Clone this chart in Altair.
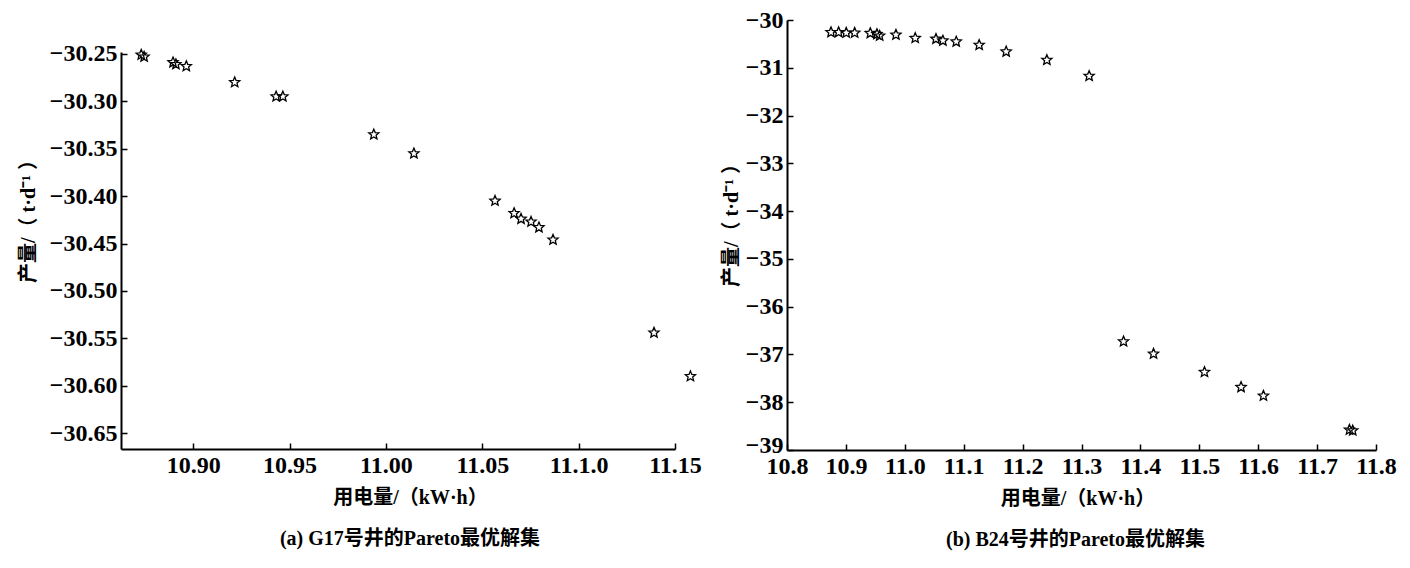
import altair as alt
import pandas as pd

# ---------------- data ----------------
g17_power = [10.8730, 10.8745, 10.8895, 10.8910, 10.8964, 10.9215, 10.9430, 10.9465,
             10.9937, 11.0145, 11.0566, 11.0665, 11.0701, 11.0753, 11.0794, 11.0867,
             11.1391, 11.1580]
g17_yield = [-30.251, -30.253, -30.259, -30.261, -30.263, -30.280, -30.295, -30.295,
             -30.335, -30.355, -30.405, -30.418, -30.424, -30.427, -30.433, -30.446,
             -30.544, -30.590]

b24_power = [10.8747, 10.8877, 10.9006, 10.9149, 10.9414, 10.9527, 10.9573, 10.9850,
             11.0177, 11.0529, 11.0647, 11.0873, 11.1263, 11.1721, 11.2412, 11.3130,
             11.3714, 11.4223, 11.5088, 11.5709, 11.6089, 11.7549, 11.7605]
b24_yield = [-30.257, -30.257, -30.270, -30.270, -30.276, -30.297, -30.330, -30.310,
             -30.380, -30.397, -30.433, -30.454, -30.523, -30.663, -30.837, -31.172,
             -36.730, -36.987, -37.370, -37.685, -37.866, -38.577, -38.592]

g17_xticks = [10.90, 10.95, 11.00, 11.05, 11.10, 11.15]
g17_xlabels = ["10.90", "10.95", "11.00", "11.05", "11.1.0", "11.15"]
g17_yticks = [-30.25, -30.30, -30.35, -30.40, -30.45, -30.50, -30.55, -30.60, -30.65]
g17_xdomain = [10.8625, 11.15]
g17_ydomain = [-30.6666, -30.248]

b24_xticks = [10.8, 10.9, 11.0, 11.1, 11.2, 11.3, 11.4, 11.5, 11.6, 11.7, 11.8]
b24_xlabels = ["10.8", "10.9", "11.0", "11.1", "11.2", "11.3", "11.4", "11.5", "11.6", "11.7", "11.8"]
b24_yticks = [-30, -31, -32, -33, -34, -35, -36, -37, -38, -39]
b24_xdomain = [10.8, 11.8]
b24_ydomain = [-39, -30]

x_title = "用电量/（kW·h）"
y_title = "产量/（ t·d⁻¹ ）"
caption_a = "(a) G17号井的Pareto最优解集"
caption_b = "(b) B24号井的Pareto最优解集"

FONT = "Liberation Serif, Noto Sans CJK SC"
STAR = ("M0,-1L0.265,-0.364L0.951,-0.309L0.428,0.139L0.588,0.809L0,0.45"
        "L-0.588,0.809L-0.428,0.139L-0.951,-0.309L-0.265,-0.364Z")


def label_expr(values, labels):
    parts = [f"abs(datum.value - ({v})) < 1e-6 ? '{lab}'" for v, lab in zip(values, labels)]
    return " : ".join(parts) + " : ''"


def panel(power, yld, xdom, ydom, xticks, xlabels, yticks, yfmt, w, h,
          caption, ytitle_pad, ytitle_y, title_dx, caption_dx, lowest):
    df = pd.DataFrame({"power": power, "yield": yld})
    xs = alt.Scale(domain=xdom, nice=False, zero=False)
    ys = alt.Scale(domain=ydom, nice=False, zero=False)
    stars = alt.Chart(df).mark_point(
        shape=STAR, size=115, filled=False, color="black", strokeWidth=1.3, opacity=1
    ).encode(
        x=alt.X("power:Q", scale=xs,
                axis=alt.Axis(values=xticks, labelExpr=label_expr(xticks, xlabels),
                              ticks=False, grid=False, title=x_title, domainWidth=2,
                              labelPadding=4, titlePadding=10, labelFlush=False,
                              labelOverlap=False, titleX=w / 2 + title_dx)),
        y=alt.Y("yield:Q", scale=ys,
                axis=alt.Axis(values=yticks, format=yfmt, ticks=False, grid=False,
                              title=y_title, domainWidth=2, labelPadding=4,
                              titlePadding=ytitle_pad, titleY=ytitle_y,
                              labelFlush=False, labelOverlap=False,
                              labelOffset=alt.condition(f"datum.value == {lowest}",
                                                        alt.value(-5), alt.value(0)))),
    )
    inner_ticks = alt.Chart(df).mark_point(opacity=0).encode(
        x=alt.X("power:Q", scale=xs,
                axis=alt.Axis(orient="top", offset=-h, values=xticks, labels=False,
                              domain=False, grid=False, tickSize=6, tickWidth=1.5,
                              tickColor="black", title=None)),
        y=alt.Y("yield:Q", scale=ys,
                axis=alt.Axis(orient="right", offset=-w, values=yticks, labels=False,
                              domain=False, grid=False, tickSize=6, tickWidth=1.5,
                              tickColor="black", title=None)),
    )
    return alt.layer(stars, inner_ticks).resolve_axis(
        x="independent", y="independent"
    ).properties(
        width=w, height=h,
        title=alt.Title(caption, orient="bottom", fontSize=20, font=FONT,
                        offset=22, dx=caption_dx),
    )


left_panel = panel(g17_power, g17_yield, g17_xdomain, g17_ydomain, g17_xticks,
                   g17_xlabels, g17_yticks, ".2f", 554, 397, caption_a, 11, 164,
                   12, 12, 99)
right_panel = panel(b24_power, b24_yield, b24_xdomain, b24_ydomain, b24_xticks,
                    b24_xlabels, b24_yticks, "d", 589, 430, caption_b, 4, 200,
                    -4, -6, -39)

# invisible spacer that lowers the left panel, as in the reference
spacer = alt.Chart(pd.DataFrame({"a": [0]})).mark_point(opacity=0).encode(
    x=alt.value(0)
).properties(width=554, height=11)

left = alt.vconcat(spacer, left_panel, spacing=10)

chart = alt.hconcat(left, right_panel, spacing=19).properties(
    padding={"left": 10, "top": 0, "right": 5, "bottom": 5}
).configure_view(stroke=None).configure_axis(
    labelFont=FONT, titleFont=FONT, labelFontSize=24, titleFontSize=20,
    labelColor="black", titleColor="black", titleFontWeight="bold",
    labelFontWeight="bold", domainColor="black"
).configure_title(font=FONT, color="black", fontWeight="bold")

chart.save("out.html", embed_options={"renderer": "svg", "actions": False})
